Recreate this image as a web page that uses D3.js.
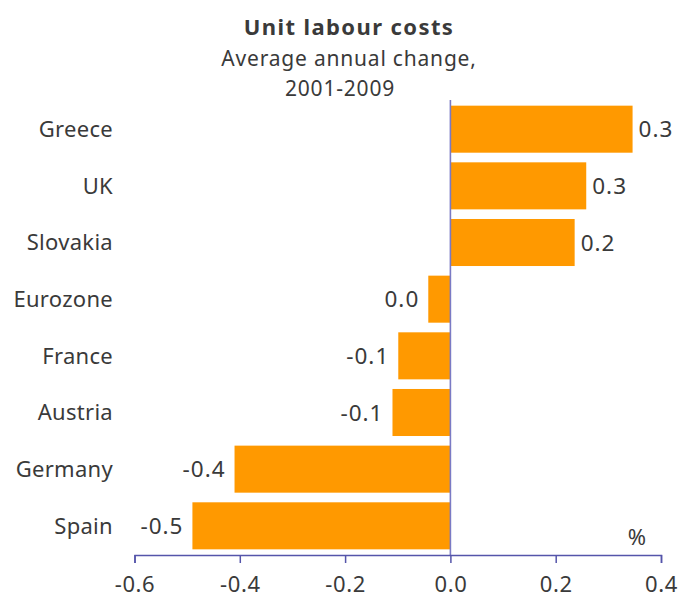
<!DOCTYPE html>
<html>
<head>
<meta charset="utf-8">
<script src="https://cdn.jsdelivr.net/npm/d3@7"></script>
<style>
  html, body { margin: 0; padding: 0; background: #ffffff; }
  svg text { font-family: "Noto Sans", "Open Sans", sans-serif; fill: #3a3a3a; }
</style>
</head>
<body>
<svg id="chart" width="679" height="601"></svg>
<script>
// Unit labour costs, average annual change 2001-2009 (%)
const countries = ["Greece", "UK", "Slovakia", "Eurozone", "France", "Austria", "Germany", "Spain"];
const changes   = [0.346, 0.258, 0.236, -0.042, -0.099, -0.110, -0.410, -0.490];
const xTicks    = [-0.6, -0.4, -0.2, 0.0, 0.2, 0.4];
const titleLines = ["Unit labour costs", "Average annual change,", "2001-2009"];
const unitLabel = "%";

const svg = d3.select("#chart");

const x = d3.scaleLinear().domain([-0.6, 0.4]).range([134.5, 661]);
const y = d3.scaleBand().domain(countries).range([100, 555])
  .paddingInner(0.17).paddingOuter(0.1);

const fmtLocale = d3.formatLocale({ decimal: ".", thousands: ",", grouping: [3], currency: ["", ""], minus: "-" });
const fmt = fmtLocale.format(".1f");

// Title block
svg.append("text").attr("x", 349).attr("y", 35).attr("text-anchor", "middle")
  .style("font-size", "22px").style("font-weight", "bold").style("letter-spacing", "1.4px")
  .text(titleLines[0]);
svg.append("text").attr("x", 349).attr("y", 66).attr("text-anchor", "middle")
  .style("font-size", "21px").style("letter-spacing", "0.8px").text(titleLines[1]);
svg.append("text").attr("x", 340).attr("y", 96).attr("text-anchor", "middle")
  .style("font-size", "21px").style("letter-spacing", "0.8px").text(titleLines[2]);

// Bars
svg.append("g").selectAll("rect").data(countries).join("rect")
  .attr("x", (d, i) => x(Math.min(0, changes[i])))
  .attr("y", d => y(d))
  .attr("width", (d, i) => Math.abs(x(changes[i]) - x(0)))
  .attr("height", y.bandwidth())
  .attr("fill", "#ff9900");

// Value labels
svg.append("g").selectAll("text").data(countries).join("text")
  .attr("x", (d, i) => changes[i] >= 0 ? x(changes[i]) + 6 : x(changes[i]) - 9)
  .attr("y", d => y(d) + y.bandwidth() / 2)
  .attr("dy", "0.36em")
  .attr("text-anchor", (d, i) => changes[i] >= 0 ? "start" : "end")
  .style("font-size", "22.5px").style("letter-spacing", "1px")
  .text((d, i) => fmt(changes[i]));

// Category labels
svg.append("g").selectAll("text").data(countries).join("text")
  .attr("x", 113)
  .attr("y", d => y(d) + y.bandwidth() / 2)
  .attr("dy", "0.36em")
  .attr("text-anchor", "end")
  .style("font-size", "22px").style("letter-spacing", "0.3px")
  .text(d => d);

// Zero line
svg.append("line")
  .attr("x1", x(0)).attr("x2", x(0))
  .attr("y1", 100).attr("y2", 555)
  .attr("stroke", "#7a7ac4").attr("stroke-width", 1.6);

// Bottom axis
const axis = svg.append("g").attr("transform", "translate(0,555)")
  .call(d3.axisBottom(x).tickValues(xTicks).tickFormat(fmt)
    .tickSize(8).tickSizeOuter(8).tickPadding(13));
axis.select(".domain").attr("stroke", "#5555aa").attr("stroke-width", 1.5);
axis.selectAll(".tick line").attr("stroke", "#5555aa").attr("stroke-width", 1.5);
axis.selectAll(".tick text")
  .style("font-family", "'Noto Sans', 'Open Sans', sans-serif")
  .style("font-size", "22px").style("letter-spacing", "0.6px").attr("fill", "#3a3a3a");

// Unit label
svg.append("text").attr("x", 646).attr("y", 545).attr("text-anchor", "end")
  .style("font-size", "22px").text(unitLabel);
</script>
</body>
</html>
